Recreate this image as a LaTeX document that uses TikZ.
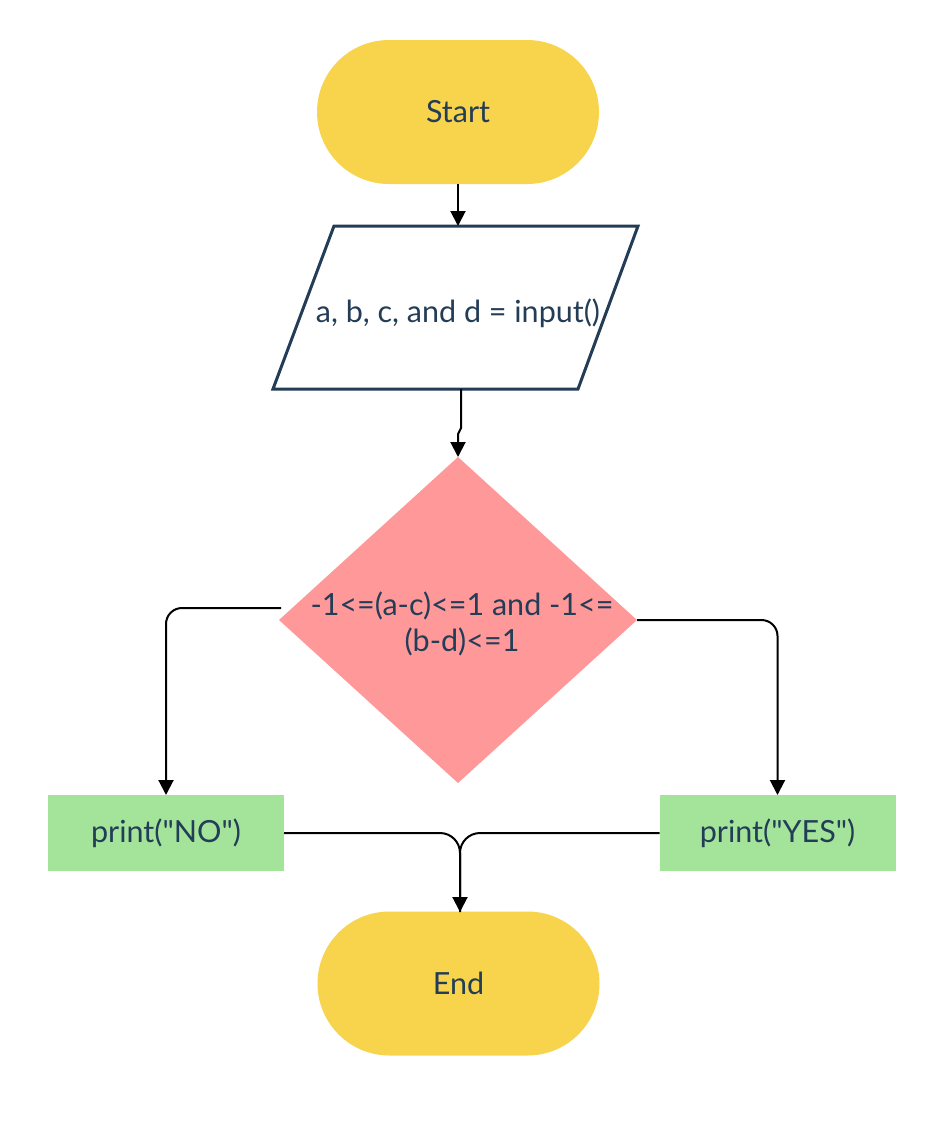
\documentclass[tikz,border=0pt]{standalone}
\usepackage{fontspec}
\setmainfont{Lato}[Ligatures=TeXOff]
\usetikzlibrary{shapes.geometric,arrows.meta,calc}
\definecolor{termcol}{HTML}{F8D44C}
\definecolor{navy}{HTML}{233D57}
\definecolor{deccol}{HTML}{FF9999}
\definecolor{boxcol}{HTML}{A3E49A}
\tikzset{
  lbl/.style={text=navy, font=\fontsize{30.5}{36}\selectfont, align=center},
  term/.style={lbl, fill=termcol, rectangle, rounded corners=72pt, minimum width=282pt, minimum height=144pt, outer sep=0pt},
  outbox/.style={lbl, fill=boxcol, rectangle, minimum width=236pt, minimum height=76pt, outer sep=0pt},
  arr/.style={line width=2pt, draw=black, -{Triangle[width=15pt,length=15pt]}},
  ln/.style={line width=2pt, draw=black}
}
\begin{document}
\begin{tikzpicture}[x=1pt,y=-1pt]
\useasboundingbox (0,0) rectangle (934,1136);
\fill[white] (0,0) rectangle (934,1136);
% Start
\node[term] (start) at (458,112) {\raisebox{-3pt}{Start}};
% input parallelogram
\coordinate (pTL) at (334,226);
\coordinate (pTR) at (638,226);
\coordinate (pBR) at (578,389);
\coordinate (pBL) at (273,389);
\draw[navy, line width=3pt, line join=miter] (pTL) -- (pTR) -- (pBR) -- (pBL) -- cycle;
\node[lbl] (inp) at (458,313) {a, b, c, and d = input()};
\coordinate (inTop) at (458,226);
\coordinate (inBot) at (461,389);
% decision
\node[diamond, fill=deccol, minimum width=358pt, minimum height=326pt, inner sep=0pt, outer sep=0pt, aspect=1.098] (dec) at (458,620) {};
\node[lbl] (dectext) at (462,624) {-1<=(a-c)<=1 and -1<=\\(b-d)<=1};
% outputs
\node[outbox] (no) at (166,833) {\raisebox{-2pt}{print("NO")}};
\node[outbox] (yes) at (777.5,833) {\raisebox{-2pt}{print("YES")}};
% End
\node[term] (end) at (458.5,983.5) {\raisebox{-3pt}{End}};
% connectors
\draw[arr] (start.south) -- (inTop);
\coordinate (j1) at (461,428);
\coordinate (j2) at (458,434);
\draw[arr] (inBot) -- (j1) -- (j2) -- (dec.north);
\coordinate (lstart) at (281,608);
\draw[arr, rounded corners=16pt] (lstart) -| (no.north);
\draw[arr, rounded corners=16pt] (dec.east) -| (yes.north);
\coordinate (endin) at (460,912);
\draw[ln, rounded corners=20pt] (no.east) -| (endin);
\draw[arr, rounded corners=20pt] (yes.west) -| (endin);
\end{tikzpicture}
\end{document}
